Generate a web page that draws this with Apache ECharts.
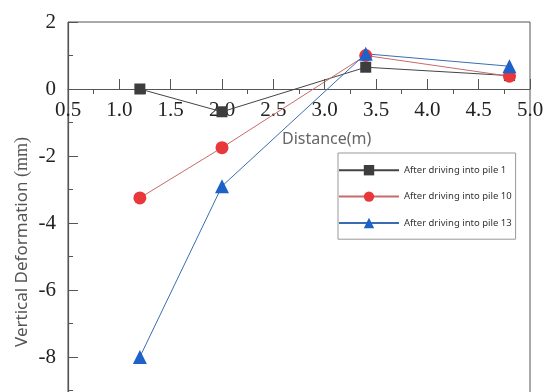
<!DOCTYPE html>
<html><head><meta charset="utf-8">
<script src="https://cdn.jsdelivr.net/npm/echarts@6/dist/echarts.min.js"></script>
<style>html,body{margin:0;padding:0;background:#fff}#c{width:544px;height:392px}</style>
</head><body><div id="c"></div>
<script>
const xValues = [1.2, 2.0, 3.4, 4.8];
const pile1 = [0, -0.68, 0.65, 0.4];
const pile10 = [-3.25, -1.75, 1.0, 0.38];
const pile13 = [-8.0, -2.9, 1.05, 0.68];
const seriesNames = ['After driving into pile 1', 'After driving into pile 10', 'After driving into pile 13'];
const yMin = -10, yMax = 2, yStep = 2;
const xMin = 0.5, xMax = 5.0, xStep = 0.5;

const pair = arr => xValues.map((x, i) => [x, arr[i]]);
const chart = echarts.init(document.getElementById('c'));
const axisCol = '#555';
const gridTop = 22;
chart.setOption({
  animation: false,
  grid: { left: 68, right: 14, top: gridTop, bottom: -32, outerBoundsMode: 'none', containLabel: false, show: true, borderColor: axisCol, borderWidth: 1, backgroundColor: 'transparent' },
  xAxis: {
    type: 'value', min: xMin, max: xMax, interval: xStep, position: 'top', offset: 0,
    axisLine: { onZero: false, lineStyle: { color: axisCol, width: 1.2 } },
    axisTick: { inside: false, length: 10, lineStyle: { color: axisCol } },
    minorTick: { show: true, splitNumber: 2, length: -5, lineStyle: { color: axisCol } },
    axisLabel: { inside: true, formatter: v => v.toFixed(1), fontFamily: 'Liberation Serif', fontSize: 21, color: '#222', margin: 11, showMinLabel: true, showMaxLabel: true },
    splitLine: { show: false }
  },
  yAxis: {
    type: 'value', min: yMin, max: yMax, interval: yStep,
    axisLine: { lineStyle: { color: axisCol, width: 1.2 } },
    axisTick: { inside: true, length: 10, lineStyle: { color: axisCol } },
    minorTick: { show: true, splitNumber: 2, length: 5, lineStyle: { color: axisCol } },
    axisLabel: { fontFamily: 'Liberation Serif', fontSize: 21, color: '#222', margin: 12 },
    splitLine: { show: false }
  },
  legend: {
    orient: 'vertical', left: 338, top: 153,
    padding: [12, 4, 11, 0], itemGap: 16, itemWidth: 60, itemHeight: 13,
    borderColor: '#999', borderWidth: 1, backgroundColor: '#fff',
    textStyle: { fontFamily: 'Noto Sans', fontSize: 9.5, color: '#333' },
    data: seriesNames
  },
  graphic: [{
    type: 'text', left: 282, top: 131,
    style: { text: 'Distance(m)', font: '16px "Noto Sans"', fill: '#666' }
  }, {
    type: 'text', x: 22, y: 242, rotation: Math.PI / 2,
    style: {
      text: '{a|Vertical Deformation }{b|(mm)}', align: 'center', verticalAlign: 'middle',
      rich: {
        a: { fontFamily: 'Noto Sans', fontSize: 17, fill: '#555' },
        b: { fontFamily: 'Liberation Serif', fontSize: 18, fill: '#555' }
      }
    }
  }],
  series: [{
    name: seriesNames[0], type: 'line', data: pair(pile1),
    symbol: 'rect', symbolSize: 11,
    itemStyle: { color: '#3d3d3d' }, lineStyle: { color: '#444', width: 1 }
  }, {
    name: seriesNames[1], type: 'line', data: pair(pile10),
    symbol: 'circle', symbolSize: 13,
    itemStyle: { color: '#e8383b' }, lineStyle: { color: '#c86a6a', width: 1 }
  }, {
    name: seriesNames[2], type: 'line', data: pair(pile13),
    symbol: 'triangle', symbolSize: 14,
    itemStyle: { color: '#1e62c9' }, lineStyle: { color: '#3a6db0', width: 1 }
  }]
});
// put the x axis on y = 0 (ECharts 6 keeps onZero labels at the grid edge)
const zeroY = chart.convertToPixel({ yAxisIndex: 0 }, 0);
chart.setOption({ xAxis: { offset: -(zeroY - gridTop) } });
</script></body></html>
